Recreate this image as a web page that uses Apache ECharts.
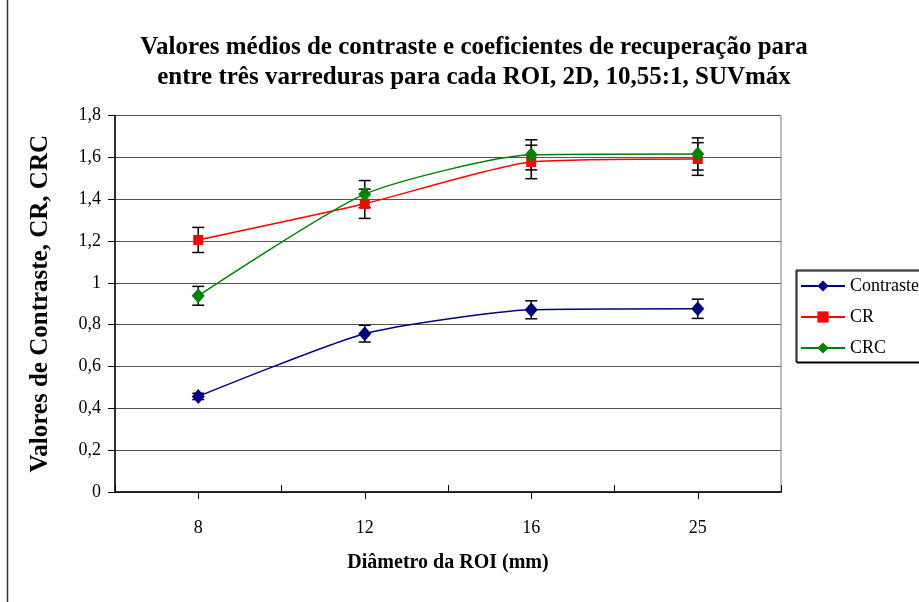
<!DOCTYPE html>
<html><head><meta charset="utf-8">
<script src="https://cdn.jsdelivr.net/npm/echarts@6/dist/echarts.min.js"></script>
<style>html,body{margin:0;padding:0;background:#fff}#c{width:919px;height:602px}</style>
</head><body><div id="c"></div><script>
const categories = ['8', '12', '16', '25'];
const contraste = [0.457, 0.757, 0.871, 0.876];
const contrasteErr = [0.015, 0.04, 0.043, 0.046];
const cr = [1.205, 1.378, 1.578, 1.592];
const crErr = [0.06, 0.07, 0.08, 0.078];
const crc = [0.938, 1.424, 1.612, 1.616];
const crcErr = [0.045, 0.065, 0.072, 0.077];
const yTickLabels = ['0', '0,2', '0,4', '0,6', '0,8', '1', '1,2', '1,4', '1,6', '1,8'];

const FONT = 'Liberation Serif';
const chart = echarts.init(document.getElementById('c'), null, {renderer: 'canvas'});

function errSeries(vals, errs) {
  return {
    type: 'custom', xAxisIndex: 0, yAxisIndex: 0, z: 2, silent: true,
    encode: {x: 0, y: [1, 2]},
    data: vals.map((v, i) => [i, v - errs[i], v + errs[i]]),
    renderItem(params, api) {
      const x = api.value(0);
      const lo = api.coord([x, api.value(1)]);
      const hi = api.coord([x, api.value(2)]);
      const w = 6;
      const style = {stroke: '#000', lineWidth: 1.5};
      return {type: 'group', children: [
        {type: 'line', shape: {x1: lo[0], y1: lo[1], x2: hi[0], y2: hi[1]}, style},
        {type: 'line', shape: {x1: lo[0] - w, y1: lo[1], x2: lo[0] + w, y2: lo[1]}, style},
        {type: 'line', shape: {x1: hi[0] - w, y1: hi[1], x2: hi[0] + w, y2: hi[1]}, style}
      ]};
    }
  };
}

function lineSeries(name, data, color, symbol, size) {
  return {
    name, type: 'line', data, smooth: 0.2, z: 3,
    symbol, symbolSize: size, showSymbol: true,
    lineStyle: {color, width: 1.5},
    itemStyle: {color},
    emphasis: {disabled: true}
  };
}

chart.setOption({
  animation: false,
  backgroundColor: '#fff',
  textStyle: {fontFamily: FONT},
  title: {
    text: 'Valores médios de contraste e coeficientes de recuperação para\nentre três varreduras para cada ROI, 2D, 10,55:1, SUVmáx',
    left: 469, top: 28, textAlign: 'center',
    textStyle: {fontFamily: FONT, fontSize: 25, fontWeight: 'bold', color: '#000', lineHeight: 30}
  },
  grid: {left: 115, right: 138, top: 115.5, bottom: 110, show: true, borderColor: '#808080', borderWidth: 1, backgroundColor: 'transparent'},
  legend: {
    orient: 'vertical', left: 796, top: 270,
    data: ['Contraste', 'CR', 'CRC'],
    itemWidth: 44, itemHeight: 14, itemGap: 13,
    padding: [7, 10, 5, 4],
    borderColor: '#000', borderWidth: 1, backgroundColor: '#fff',
    shadowColor: '#000', shadowOffsetX: 1, shadowOffsetY: 1, shadowBlur: 0,
    textStyle: {fontFamily: FONT, fontSize: 18, lineHeight: 14, color: '#000'}
  },
  xAxis: [{
    type: 'category', data: categories, boundaryGap: true,
    name: 'Diâmetro da ROI (mm)', nameLocation: 'middle', nameGap: 61,
    nameTextStyle: {fontFamily: FONT, fontSize: 20, fontWeight: 'bold', color: '#000'},
    axisLine: {lineStyle: {color: '#000', width: 1.5}},
    axisTick: {show: true, inside: true, length: 7, alignWithLabel: false, lineStyle: {color: '#000'}},
    axisLabel: {fontFamily: FONT, fontSize: 18, color: '#000', margin: 27},
    splitLine: {show: false}
  }, {
    type: 'category', data: categories, boundaryGap: true, position: 'bottom',
    axisLine: {show: false},
    axisTick: {show: true, inside: false, length: 7, alignWithLabel: true, lineStyle: {color: '#000'}},
    axisLabel: {show: false},
    splitLine: {show: false}
  }],
  yAxis: {
    type: 'value', min: 0, max: 1.8, interval: 0.2,
    name: 'Valores de Contraste, CR, CRC', nameLocation: 'middle', nameGap: 62,
    nameTextStyle: {fontFamily: FONT, fontSize: 25, fontWeight: 'bold', color: '#000'},
    axisLine: {show: true, lineStyle: {color: '#000', width: 1.5}},
    axisTick: {show: true, inside: false, length: 7, lineStyle: {color: '#000'}},
    axisLabel: {fontFamily: FONT, fontSize: 18, color: '#000', margin: 14,
      formatter: v => yTickLabels[Math.round(v / 0.2)]},
    splitLine: {show: true, lineStyle: {color: '#555', width: 1}}
  },
  graphic: [{
    type: 'line', shape: {x1: 7.5, y1: 0, x2: 7.5, y2: 602},
    style: {stroke: '#333', lineWidth: 1.5}, silent: true
  }],
  series: [
    errSeries(contraste, contrasteErr),
    errSeries(cr, crErr),
    errSeries(crc, crcErr),
    lineSeries('Contraste', contraste, '#000080', 'diamond', [13, 15]),
    lineSeries('CR', cr, '#FF0000', 'rect', 10),
    lineSeries('CRC', crc, '#008000', 'diamond', [13, 15])
  ]
});
</script></body></html>
